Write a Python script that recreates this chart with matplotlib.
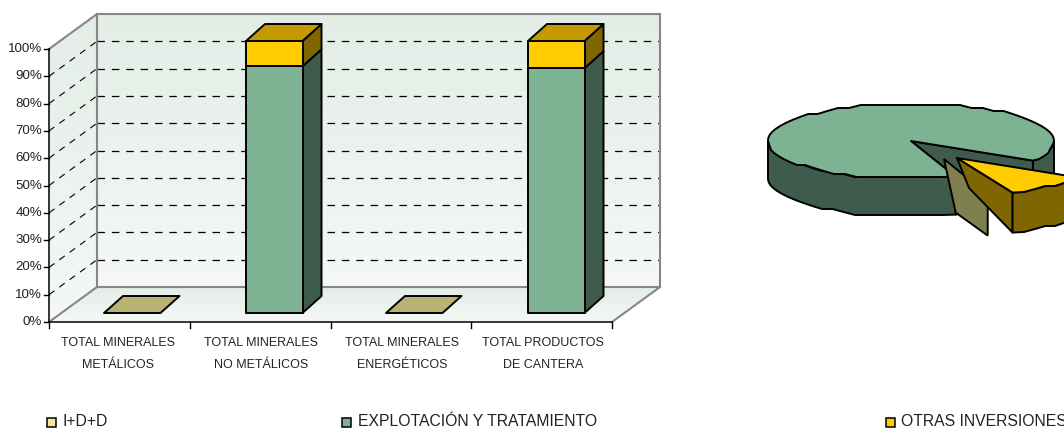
import numpy as np
import matplotlib
matplotlib.use("Agg")
import matplotlib.pyplot as plt
from matplotlib.patches import Polygon, Rectangle
from matplotlib.colors import LinearSegmentedColormap

plt.rcParams['font.family'] = ['Liberation Sans', 'DejaVu Sans']

# datos
categorias = ["TOTAL MINERALES\nMETÁLICOS", "TOTAL MINERALES\nNO METÁLICOS",
              "TOTAL MINERALES\nENERGÉTICOS", "TOTAL PRODUCTOS\nDE CANTERA"]
idd = [0, 0, 0, 0]
explotacion = [0, 90.7, 0, 90.0]
otras = [0, 9.3, 0, 10.0]
etiquetas_y = ["0%", "10%", "20%", "30%", "40%", "50%", "60%", "70%", "80%", "90%", "100%"]
series_leyenda = ["I+D+D", "EXPLOTACIÓN Y TRATAMIENTO", "OTRAS INVERSIONES"]
tarta = [1.3, 88.8, 9.9]  # % I+D+D, explotacion, otras

# colores: cara frontal, lateral, superior
col_idd = ("#F5E99A", "#7F7F4F", "#B8B273")
col_exp = ("#7DB393", "#3F5B4B", "#7DB393")
col_otr = ("#FFCC00", "#806600", "#C49A00")
col_pared = "#868686"

fig = plt.figure(figsize=(10.64, 4.28), dpi=100)
ax = fig.add_axes([0, 0, 1, 1])


def fondo(puntos, arriba, abajo):
    # relleno con degradado vertical recortado al poligono
    ys = [p[1] for p in puntos]
    xs = [p[0] for p in puntos]
    cmap = LinearSegmentedColormap.from_list("g", [arriba, abajo])
    im = ax.imshow(np.linspace(0, 1, 64).reshape(-1, 1), cmap=cmap, aspect="auto",
                   extent=(min(xs), max(xs), max(ys), min(ys)), zorder=1)
    im.set_clip_path(Polygon(puntos, transform=ax.transData))


# ---- barras 3D ----
x0, x1 = 49, 612
y0, y100 = 322, 49
dx, dy = 48, -35
alto10 = (y0 - y100) / 10
fondo([(x0 + dx, y100 + dy), (x1 + dx, y100 + dy), (x1 + dx, y0 + dy), (x0 + dx, y0 + dy)], "#E3EDE6", "#F5F8F6")
fondo([(x0, y100), (x0 + dx, y100 + dy), (x0 + dx, y0 + dy), (x0, y0)], "#E3EDE6", "#F5F8F6")
fondo([(x0, y0), (x0 + dx, y0 + dy), (x1 + dx, y0 + dy), (x1, y0)], "#E3EDE6", "#F5F8F6")

# rejilla
for i in range(1, 10):
    yg = y0 - i * alto10
    ax.plot([x0 + dx, x1 + dx], [yg + dy, yg + dy], color="k", lw=0.9, dashes=(6, 5.5), zorder=2)
    ax.plot([x0, x0 + dx], [yg, yg + dy], color="k", lw=0.8, dashes=(6, 5.5), zorder=2)

# paredes
ax.plot([x0, x0 + dx, x1 + dx, x1 + dx, x0 + dx, x0 + dx], [y100, y100 + dy, y100 + dy, y0 + dy, y0 + dy, y100 + dy],
        color=col_pared, lw=1.5, zorder=3, solid_joinstyle="miter")
ax.plot([x0, x0 + dx], [y0, y0 + dy], color=col_pared, lw=1.5, zorder=3)
ax.plot([x1, x1 + dx], [y0, y0 + dy], color=col_pared, lw=1.5, zorder=3)

# ejes
ax.plot([x0, x0], [y100, y0], color="k", lw=1.1, zorder=4)
ax.plot([x0, x1], [y0, y0], color="k", lw=1.1, zorder=4)
for i, et in enumerate(etiquetas_y):
    yt = y0 - i * alto10
    ax.plot([x0 - 5, x0], [yt, yt], color="k", lw=1, zorder=4)
    ax.text(x0 - 7, yt, et, ha="right", va="center", fontsize=9.6, color="#222222")
ancho_cat = (x1 - x0) / len(categorias)
centros_et = [118, 261, 402, 543]
for i, cat in enumerate(categorias):
    xt = x0 + i * ancho_cat
    ax.plot([xt, xt], [y0, y0 + 6], color="k", lw=1, zorder=4)
    l1, l2 = cat.split("\n")
    ax.text(centros_et[i], 343, l1, ha="center", va="center", fontsize=9, color="#222222")
    ax.text(centros_et[i], 365, l2, ha="center", va="center", fontsize=9, color="#222222")
xt = x1
ax.plot([xt, xt], [y0, y0 + 6], color="k", lw=1, zorder=4)

# barras apiladas
ancho_barra = 56.5
base_y = 313
escala = (base_y - 41) / 100
px, py = 19, -17
izq = [104, 246, 386, 528]


def cara(puntos, color, z):
    ax.add_patch(Polygon(puntos, closed=True, fc=color, ec="k", lw=1.4, joinstyle="round", zorder=z))


for i in range(len(categorias)):
    base = 0
    xa, xb = izq[i], izq[i] + ancho_barra
    for valor, col in zip((idd[i], explotacion[i], otras[i]), (col_idd, col_exp, col_otr)):
        if valor == 0:
            continue
        ya = base_y - base * escala
        yb = base_y - (base + valor) * escala
        cara([(xb, ya), (xb + px, ya + py), (xb + px, yb + py), (xb, yb)], col[1], 6)
        cara([(xa, ya), (xb, ya), (xb, yb), (xa, yb)], col[0], 6)
        base += valor
    yb = base_y - base * escala
    if base == 0:
        sup = col_idd[2]
    else:
        sup = col_otr[2]
    cara([(xa, yb), (xb, yb), (xb + px, yb + py), (xa + px, yb + py)], sup, 6)


# ---- tarta 3D ----
cx, cy = 911, 141
rx, ry = 143, 37.5
grosor = 38


def borde(cxx, cyy, t0, t1, paso=5.0):
    # arco de elipse con vertices bastos, como en el original
    n = max(2, int(abs(t1 - t0) / paso) + 1)
    t = np.radians(np.linspace(t0, t1, n))
    xs = cxx + rx * np.cos(t)
    ys = cyy + ry * np.sin(t)
    ys[1:-1] = np.round(ys[1:-1] / 3) * 3
    return list(zip(xs, ys))


# angulos en pantalla: y hacia abajo, positivo en sentido horario
ini_exp = 31.5
fin_exp = ini_exp + 0
ang_otr = tarta[2] * 3.6
ang_idd = tarta[0] * 3.6
ang_exp = tarta[1] * 3.6
t_a = ini_exp          # final de explotacion en el lado derecho
t_b = t_a + ang_exp * -1  # va por arriba hasta abajo-izquierda
t_b_pos = t_b + 360    # ~ 71 grados

arco_sup = borde(cx, cy, t_b_pos, t_a - 360 + 360 + 360)
# pared exterior de explotacion (parte frontal izquierda)
frente = borde(cx, cy, t_b_pos, 180)
cara(frente + [(p[0], p[1] + grosor) for p in frente[::-1]], col_exp[1], 6)
# pared exterior derecha
derecha = borde(cx, cy, 0, t_a)
cara(derecha + [(p[0], p[1] + grosor) for p in derecha[::-1]], col_exp[1], 6)
# paredes interiores de la hendidura
pa = borde(cx, cy, t_a, t_a)[0]
pb = borde(cx, cy, t_b_pos, t_b_pos)[0]
cara([(cx, cy), pa, (pa[0], pa[1] + grosor), (pb[0], pb[1] + grosor), pb], col_exp[1], 6)
# tapa
cara([(cx, cy)] + borde(cx, cy, t_b_pos, t_a + 360), col_exp[0], 7)

# I+D+D separada
ox, oy = 33, 18
t1 = t_b_pos
t2 = t1 - ang_idd
a1 = (cx + ox + rx * np.cos(np.radians(t1)) * 0.98, cy + oy + ry * np.sin(np.radians(t1)))
ax.add_patch(Polygon([(cx + ox, cy + oy), a1, (a1[0], a1[1] + grosor + 3), (a1[0] - 32, a1[1] + 18)],
                     closed=True, fc=col_idd[1], ec="k", lw=1.4, zorder=8))

# otras inversiones separada
ox, oy = 46, 17
t3 = t_a
t4 = t3 + ang_otr
cen = (cx + ox, cy + oy)
arco = borde(cen[0], cen[1], t3, t4)
pf = arco[-1]
cara([cen, pf, (pf[0], pf[1] + grosor + 2), (cen[0] + 12, cen[1] + 30)], col_otr[1], 9)
cara(arco + [(p[0], p[1] + grosor + 2) for p in arco[::-1]], col_otr[1], 9)
cara([cen] + arco, col_otr[0], 10)

# ---- leyenda ----
pos_cuadro = [47, 342, 886]
pos_texto = [62, 358, 901]
for xc, xtx, nombre, col in zip(pos_cuadro, pos_texto, series_leyenda, (col_idd, col_exp, col_otr)):
    ax.add_patch(Rectangle((xc, 418), 9, 9, fc=col[0], ec="k", lw=1.1, zorder=5))
    ax.text(xtx, 422, nombre, ha="left", va="center", fontsize=11.3, color="#222222")

ax.set_xlim(0, 1064)
ax.set_ylim(428, 0)
ax.axis("off")
fig.savefig("out.png", dpi=100, facecolor="white")
